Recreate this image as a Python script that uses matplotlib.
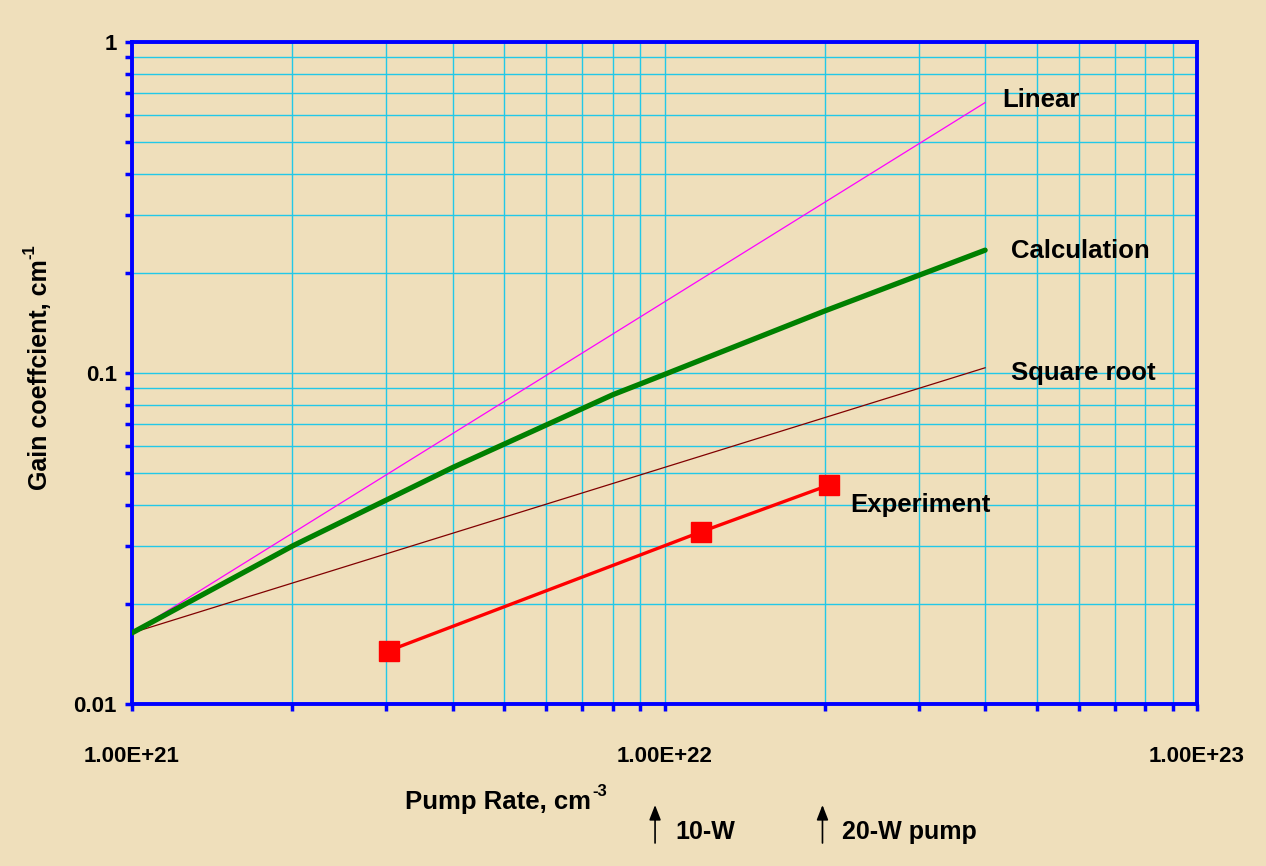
import matplotlib
matplotlib.use("Agg")
import matplotlib.pyplot as plt
from matplotlib.ticker import LogLocator, FixedLocator, NullFormatter

# ---- data ----
x_ref = [1e21, 4e22]
linear_y = [0.0164, 0.656]
sqrt_y = [0.0164, 0.1037]

calc_x = [1e21, 2e21, 4e21, 8e21, 1e22, 2e22, 4e22]
calc_y = [0.0164, 0.0300, 0.0518, 0.0860, 0.0990, 0.1540, 0.2350]

exp_x = [3.04e21, 1.17e22, 2.04e22]
exp_y = [0.0145, 0.0331, 0.0459]

x_ticks = [1e21, 1e22, 1e23]
x_ticklabels = ["1.00E+21", "1.00E+22", "1.00E+23"]
y_ticks = [0.01, 0.1, 1]
y_ticklabels = ["0.01", "0.1", "1"]

pump_x = [9.6e21, 1.98e22]
pump_labels = ["10-W", "20-W pump"]

series_labels = ["Linear", "Calculation", "Square root", "Experiment"]
label_pos_x = [4.3e22, 4.48e22, 4.48e22, 2.23e22]
label_pos_y = [0.668, 0.234, 0.100, 0.0399]

# ---- style ----
plt.rcParams['font.family'] = ['Liberation Sans', 'DejaVu Sans']
bg = '#EFDFBB'
grid_c = '#22C8E8'
blue = '#0000FF'

fig = plt.figure(figsize=(12.66, 8.66), dpi=100, facecolor=bg)
ax = fig.add_axes([132/1266, 1-704/866, (1197-132)/1266, (704-42)/866])
ax.set_facecolor(bg)
ax.set_xscale('log')
ax.set_yscale('log')
ax.set_xlim(1e21, 1e23)
ax.set_ylim(0.01, 1)

# grid
ax.xaxis.set_minor_locator(LogLocator(base=10, subs=range(2, 10)))
ax.yaxis.set_minor_locator(LogLocator(base=10, subs=range(2, 10)))
ax.grid(True, which='both', color=grid_c, lw=1.0)
ax.set_axisbelow(True)

# lines
ax.plot(x_ref, linear_y, color='#FF00FF', lw=0.9, zorder=3)
ax.plot(x_ref, sqrt_y, color='#800000', lw=0.9, zorder=3)
ax.plot(calc_x, calc_y, color='#008000', lw=3.8, zorder=4, solid_capstyle='round')
ax.plot(exp_x, exp_y, color='#FF0000', lw=2.4, marker='s', markersize=14,
        markeredgecolor='#FF0000', zorder=5)

# series labels
for t, lx, ly in zip(series_labels, label_pos_x, label_pos_y):
    ax.text(lx, ly, t, fontsize=18.5, fontweight='bold', ha='left', va='center', zorder=6)

# spines
for s in ax.spines.values():
    s.set_color(blue)
    s.set_linewidth(2.8)

# ticks
ax.xaxis.set_major_locator(FixedLocator(x_ticks))
ax.yaxis.set_major_locator(FixedLocator(y_ticks))
ax.set_xticklabels(x_ticklabels)
ax.set_yticklabels(y_ticklabels)
ax.xaxis.set_minor_formatter(NullFormatter())
ax.yaxis.set_minor_formatter(NullFormatter())
ax.tick_params(which='both', direction='out', color=blue, width=2.5, length=5)
ax.tick_params(axis='x', which='major', pad=25, labelsize=16)
ax.tick_params(axis='y', which='major', pad=6, labelsize=16)
for lab in ax.get_xticklabels() + ax.get_yticklabels():
    lab.set_fontweight('bold')

# axis labels with hyphen superscripts
xl = fig.text(405/1266, 1-802/866, 'Pump Rate, cm', fontsize=18.5, fontweight='bold',
              ha='left', va='center')
ax.annotate('-3', xy=(1.0, 0.62), xycoords=xl, xytext=(1, 0), textcoords='offset pixels',
            fontsize=12, fontweight='bold', ha='left', va='bottom', annotation_clip=False)

yl = fig.text(40/1266, 1-375/866, 'Gain coeffcient, cm', fontsize=18, fontweight='bold',
              ha='center', va='center', rotation=90)
ax.annotate('-1', xy=(0.38, 1.0), xycoords=yl, xytext=(0, 1), textcoords='offset pixels',
            fontsize=12, fontweight='bold', ha='right', va='bottom', rotation=90,
            annotation_clip=False)

# pump arrows
for px, pl in zip(pump_x, pump_labels):
    ax.annotate('', xy=(px, 1-805/866), xytext=(px, 1-843/866),
                xycoords=('data', 'figure fraction'), textcoords=('data', 'figure fraction'),
                arrowprops=dict(arrowstyle='-|>,head_length=0.9,head_width=0.35',
                                color='black', lw=1.2, shrinkA=0, shrinkB=0),
                annotation_clip=False)
    ax.annotate(pl, xy=(px, 1-832/866), xycoords=('data', 'figure fraction'),
                xytext=(20, 0), textcoords='offset pixels', fontsize=18, fontweight='bold',
                ha='left', va='center', annotation_clip=False)

fig.savefig('out.png', dpi=100, facecolor=bg)
